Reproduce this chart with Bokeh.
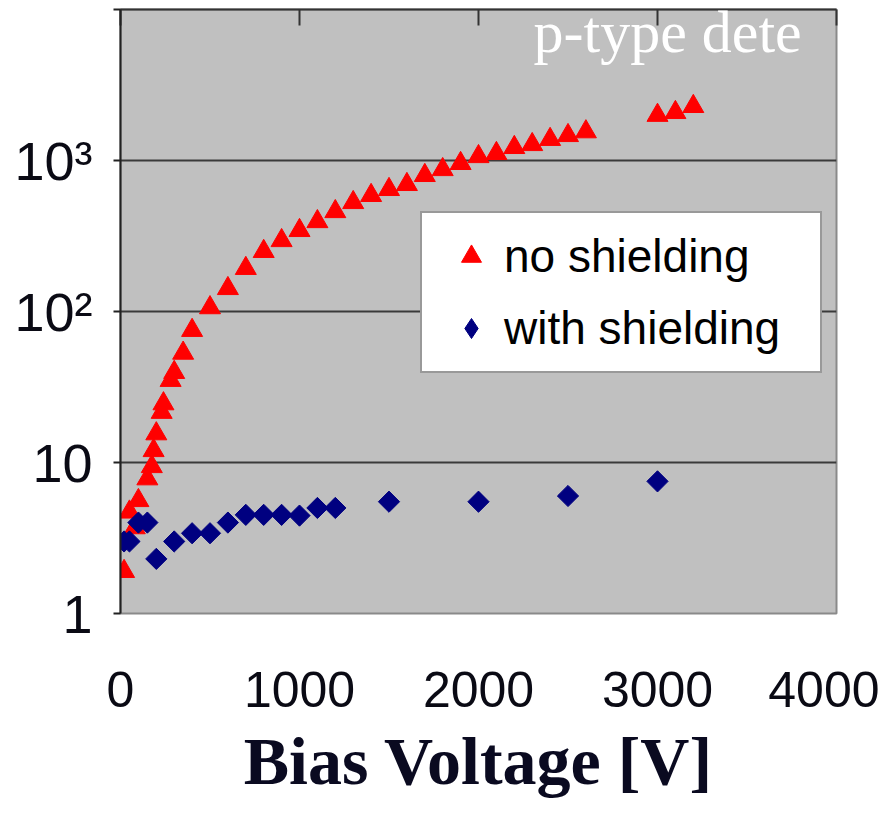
import math
from bokeh.plotting import figure
from bokeh.models import Range1d, FixedTicker, LinearAxis, Label, Legend, LegendItem
from bokeh.embed import file_html
from bokeh.resources import INLINE

# ---- data ----
no_shield_v = [20, 50, 80, 100, 150, 175, 185, 200, 230, 240, 280, 300, 350, 400, 500,
               600, 700, 800, 900, 1000, 1100, 1200, 1300, 1400, 1500, 1600, 1700, 1800,
               1900, 2000, 2100, 2200, 2300, 2400, 2500, 2600, 3000, 3100, 3200]
no_shield_rate = [1.9, 4.7, 3.7, 5.6, 7.8, 9.4, 12, 15.5, 21.5, 24.5, 35, 39.5, 53, 75, 106,
                  142, 193, 250, 295, 344, 394, 459, 527, 587, 643, 694, 796, 871,
                  956, 1062, 1113, 1220, 1276, 1380, 1464, 1550, 1992, 2080, 2280]

shield_v = [20, 50, 100, 150, 200, 300, 400, 500, 600, 700, 800, 900, 1000, 1100, 1200,
            1500, 2000, 2500, 3000]
shield_rate = [3.0, 3.0, 4.0, 4.0, 2.3, 3.0, 3.4, 3.4, 4.0, 4.5, 4.5, 4.5, 4.45, 5.0, 5.0,
               5.5, 5.5, 6.0, 7.5]

x_ticks = [0, 1000, 2000, 3000, 4000]
y_ticks = [1, 10, 100, 1000, 10000]
y_tick_labels = ["1", "10", "10\u00b2", "10\u00b3", ""]
legend_labels = ["no shielding", "with shielding"]
x_label = "Bias Voltage [V]"
panel_title = "p-type dete"

p = figure(width=879, height=805, y_axis_type="log",
           x_range=Range1d(0, 4000), y_range=Range1d(1, 10000),
           output_backend="svg", toolbar_location=None,
           min_border_left=120, min_border_right=43, min_border_top=9,
           min_border_bottom=192)

p.background_fill_color = "#C0C0C0"
p.border_fill_color = "white"
p.outline_line_color = "#8A8A8A"
p.outline_line_width = 2

p.xgrid.grid_line_color = None
p.ygrid.grid_line_color = "#3A3A3A"
p.ygrid.grid_line_width = 2
p.ygrid.ticker = FixedTicker(ticks=y_ticks)

# y axis
ya = p.yaxis[0]
ya.ticker = FixedTicker(ticks=y_ticks)
ya.major_label_overrides = dict(zip(y_ticks, y_tick_labels))
ya.major_label_text_font = "Liberation Sans"
ya.major_label_text_font_size = "54px"
ya.major_label_text_color = "#0a0a14"
ya.major_label_standoff = 21
ya.major_tick_out = 7
ya.major_tick_in = 0
ya.major_tick_line_color = "#222222"
ya.major_tick_line_width = 2
ya.minor_tick_line_color = None
ya.axis_line_color = "#222222"
ya.axis_line_width = 2

# x axis
xa = p.xaxis[0]
xa.ticker = FixedTicker(ticks=x_ticks)
xa.major_label_text_font = "Liberation Sans"
xa.major_label_text_font_size = "50px"
xa.major_label_text_color = "#0a0a14"
xa.major_label_standoff = 58
xa.major_tick_out = 0
xa.major_tick_in = 0
xa.minor_tick_line_color = None
xa.axis_line_color = None
xa.axis_label = x_label
xa.axis_label_text_font = "Liberation Serif"
xa.axis_label_text_font_style = "bold"
xa.axis_label_text_font_size = "68px"
xa.axis_label_text_color = "#0a0a20"
xa.axis_label_standoff = 13

# top axis with inward ticks
top = LinearAxis(ticker=FixedTicker(ticks=x_ticks),
                 major_label_overrides={t: "" for t in x_ticks},
                 major_label_text_font_size="1px", major_label_standoff=0,
                 major_tick_in=16, major_tick_out=0, minor_tick_line_color=None,
                 major_tick_line_color="#333333", major_tick_line_width=2,
                 axis_line_color="#333333", axis_line_width=2)
p.add_layout(top, "above")

r_no = p.scatter(no_shield_v, no_shield_rate, marker="triangle", size=21,
                 fill_color="#FF0000", line_color="#FF0000")
# diamond-shaped key glyph (hidden under the rotated squares; legend ignores angles)
r_with_key = p.scatter(shield_v, shield_rate, marker="diamond", size=15,
                       fill_color="#000080", line_color="#000080")
r_with = p.scatter(shield_v, shield_rate, marker="square", angle=math.pi / 4, size=15,
                   fill_color="#000080", line_color="#000080")

legend = Legend(items=[LegendItem(label=legend_labels[0], renderers=[r_no]),
                       LegendItem(label=legend_labels[1], renderers=[r_with_key])],
                location=(300, 240), margin=0, padding=16, spacing=18,
                glyph_width=66, glyph_height=50, label_standoff=0, label_width=300,
                label_text_font="Liberation Sans", label_text_font_size="46px",
                label_text_color="#000000",
                background_fill_color="white", background_fill_alpha=1,
                border_line_color="#333333", border_line_width=2)
p.add_layout(legend)

p.add_layout(Label(x=413, y=582, x_units="screen", y_units="screen", text=panel_title,
                   text_color="white", text_font="Liberation Serif",
                   text_font_size="60px", text_baseline="middle"))

open("out.html", "w").write(file_html(p, INLINE))
